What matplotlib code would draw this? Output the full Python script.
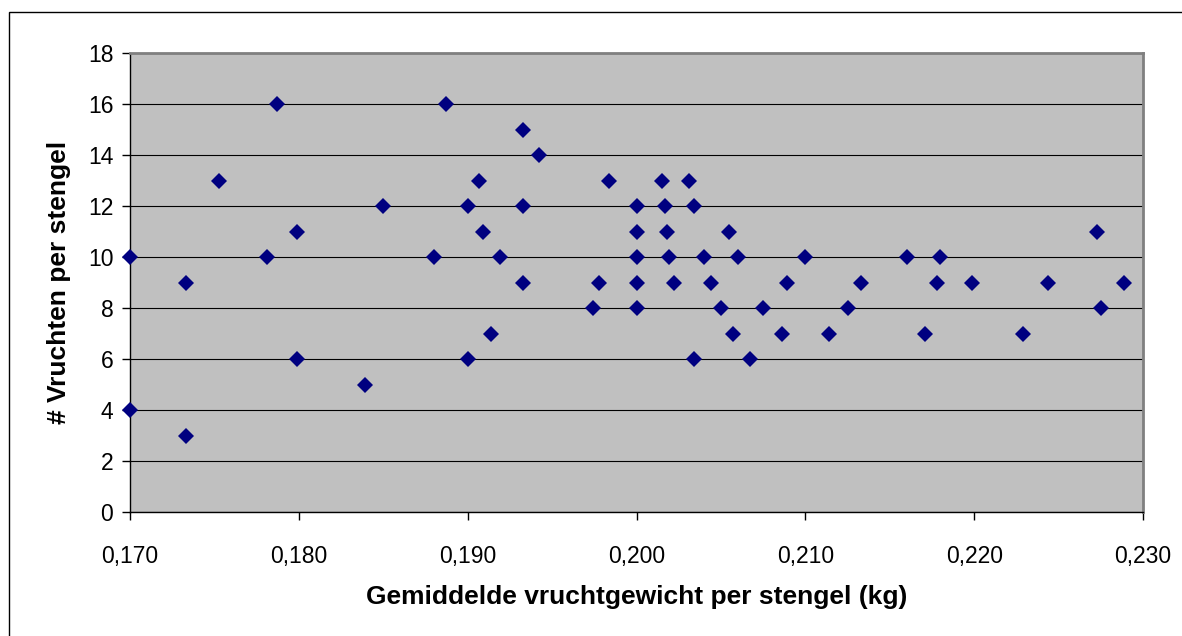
import matplotlib
matplotlib.use("Agg")
from matplotlib import pyplot as plt
from matplotlib.patches import Rectangle

# gemiddeld vruchtgewicht per stengel (kg)
gewicht = [0.1700, 0.1700, 0.1733, 0.1733, 0.1753, 0.1787, 0.1781, 0.1799,
           0.1799, 0.1839, 0.1850, 0.1887, 0.1880, 0.1907, 0.1900, 0.1909,
           0.1919, 0.1900, 0.1914, 0.1933, 0.1942, 0.1933, 0.1933, 0.1984,
           0.2015, 0.2031, 0.2000, 0.2017, 0.2034, 0.2000, 0.2018, 0.2055,
           0.2000, 0.2019, 0.2040, 0.2060, 0.2100, 0.1978, 0.2000, 0.2022,
           0.2044, 0.2089, 0.1974, 0.2000, 0.2050, 0.2075, 0.2057, 0.2086,
           0.2114, 0.2034, 0.2067, 0.2273, 0.2160, 0.2180, 0.2133, 0.2178,
           0.2199, 0.2244, 0.2289, 0.2125, 0.2275, 0.2171, 0.2229]
# aantal vruchten per stengel
vruchten = [10, 4, 9, 3, 13, 16, 10, 11,
            6, 5, 12, 16, 10, 13, 12, 11,
            10, 6, 7, 15, 14, 12, 9, 13,
            13, 13, 12, 12, 12, 11, 11, 11,
            10, 10, 10, 10, 10, 9, 9, 9,
            9, 9, 8, 8, 8, 8, 7, 7,
            7, 6, 6, 11, 10, 10, 9, 9,
            9, 9, 9, 8, 8, 7, 7]

x_ticks = [0.170, 0.180, 0.190, 0.200, 0.210, 0.220, 0.230]
y_ticks = list(range(0, 19, 2))

plt.rcParams['font.family'] = ['Liberation Sans', 'DejaVu Sans']

fig = plt.figure(figsize=(11.82, 6.36), dpi=100)
ax = fig.add_axes([130 / 1182, 1 - 512 / 636, (1143 - 130) / 1182, (512 - 53) / 636])
ax.set_facecolor('#C0C0C0')

ax.plot(gewicht, vruchten, linestyle='none', marker='D', markersize=8,
        markerfacecolor='#000080', markeredgewidth=0, clip_on=False, zorder=3)

ax.set_xlim(0.170, 0.230)
ax.set_ylim(0, 18)
ax.set_xticks(x_ticks)
ax.set_xticklabels([f"{t:.3f}".replace('.', ',') for t in x_ticks])
ax.set_yticks(y_ticks)
ax.grid(axis='y', color='black', linewidth=0.8)
ax.set_axisbelow(True)

ax.tick_params(axis='both', direction='out', length=6, width=1, colors='black',
               labelsize=16.5)
ax.tick_params(axis='x', pad=18)
ax.tick_params(axis='y', pad=6)

for side in ['top', 'right']:
    ax.spines[side].set_color('#808080')
    ax.spines[side].set_linewidth(2)
for side in ['left', 'bottom']:
    ax.spines[side].set_color('black')
    ax.spines[side].set_linewidth(1)

ax.set_xlabel('Gemiddelde vruchtgewicht per stengel (kg)', fontsize=19,
              fontweight='bold', labelpad=12)
ax.set_ylabel('# Vruchten per stengel', fontsize=19, fontweight='bold',
              labelpad=12)

# rand om de hele grafiek
fig.patches.append(Rectangle((8.5 / 1182, -0.1), 1.2, 1.1 - 11.5 / 636,
                             transform=fig.transFigure, fill=False,
                             edgecolor='black', linewidth=1))

fig.savefig('out.png', dpi=100)
